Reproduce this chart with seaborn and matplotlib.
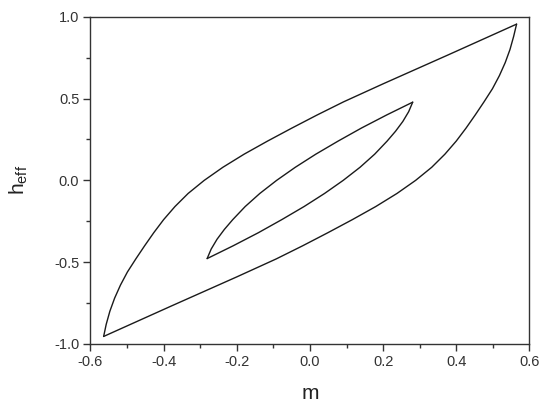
import matplotlib
matplotlib.use("Agg")
import matplotlib.pyplot as plt
import seaborn as sns
import pandas as pd
from matplotlib.ticker import MultipleLocator

# Outer loop: upper (left, curved) branch and lower (right) branch
outer_up_m = [-0.564, -0.557, -0.547, -0.534, -0.518, -0.499, -0.476, -0.452, -0.427,
              -0.400, -0.369, -0.333, -0.289, -0.238, -0.180, -0.116, -0.049, 0.020,
              0.092, 0.200, 0.379, 0.565]
outer_up_h = [-0.954, -0.880, -0.800, -0.720, -0.640, -0.560, -0.480, -0.400, -0.320,
              -0.240, -0.160, -0.080, 0.000, 0.080, 0.160, 0.240, 0.320, 0.400,
              0.480, 0.590, 0.768, 0.955]

outer_dn_m = [-0.564, -0.379, -0.200, -0.092, -0.020, 0.049, 0.116, 0.180, 0.238,
              0.289, 0.333, 0.369, 0.400, 0.427, 0.452, 0.476, 0.499, 0.518,
              0.534, 0.547, 0.557, 0.565]
outer_dn_h = [-0.954, -0.768, -0.590, -0.480, -0.400, -0.320, -0.240, -0.160, -0.080,
              0.000, 0.080, 0.160, 0.240, 0.320, 0.400, 0.480, 0.560, 0.640,
              0.720, 0.800, 0.880, 0.955]

# Inner loop
inner_up_m = [-0.281, -0.270, -0.254, -0.234, -0.211, -0.177, -0.137, -0.091, -0.040,
              0.016, 0.077, 0.141, 0.210, 0.281]
inner_up_h = [-0.478, -0.420, -0.360, -0.300, -0.240, -0.160, -0.080, 0.000, 0.080,
              0.160, 0.240, 0.320, 0.400, 0.478]

inner_dn_m = [-0.281, -0.210, -0.141, -0.077, -0.016, 0.040, 0.091, 0.137, 0.177,
              0.211, 0.234, 0.254, 0.270, 0.281]
inner_dn_h = [-0.478, -0.400, -0.320, -0.240, -0.160, -0.080, 0.000, 0.080, 0.160,
              0.240, 0.300, 0.360, 0.420, 0.478]

branches = {
    "outer_up": (outer_up_m, outer_up_h),
    "outer_dn": (outer_dn_m, outer_dn_h),
    "inner_up": (inner_up_m, inner_up_h),
    "inner_dn": (inner_dn_m, inner_dn_h),
}

sns.set_theme(style="ticks")
plt.rcParams['font.family'] = ['Liberation Sans', 'DejaVu Sans']

fig = plt.figure(figsize=(5.5, 4.09), dpi=100)
ax = fig.add_axes([0.1645, 0.159, 0.798, 0.8])

for name, (mm, hh) in branches.items():
    df = pd.DataFrame({"m": mm, "h": hh})
    sns.lineplot(data=df, x="m", y="h", sort=False, estimator=None,
                 color="#1a1a1a", linewidth=1.0, ax=ax)

ax.set_xlim(-0.6, 0.6)
ax.set_ylim(-1.0, 1.0)
ax.xaxis.set_major_locator(MultipleLocator(0.2))
ax.xaxis.set_minor_locator(MultipleLocator(0.1))
ax.yaxis.set_major_locator(MultipleLocator(0.5))
ax.yaxis.set_minor_locator(MultipleLocator(0.25))
ax.set_xticklabels([f"{v:.1f}" for v in ax.get_xticks()])
ax.set_yticklabels([f"{v:.1f}" for v in ax.get_yticks()])

for sp in ax.spines.values():
    sp.set_visible(True)
    sp.set_color("#333333")
    sp.set_linewidth(1.0)

ax.tick_params(which="major", direction="out", length=5, width=1.0, color="#333333",
               labelsize=10.5, labelcolor="#333333", pad=3)
ax.tick_params(which="minor", direction="out", length=3, width=1.0, color="#333333")
ax.tick_params(top=False, right=False, which="both")

ax.set_xlabel("m", fontsize=15, color="#222222")
ax.set_ylabel(r"h$_{\mathregular{eff}}$", fontsize=15, color="#222222")
ax.xaxis.set_label_coords(0.5, -0.122)
ax.yaxis.set_label_coords(-0.137, 0.5)

fig.savefig("out.png", dpi=100)
